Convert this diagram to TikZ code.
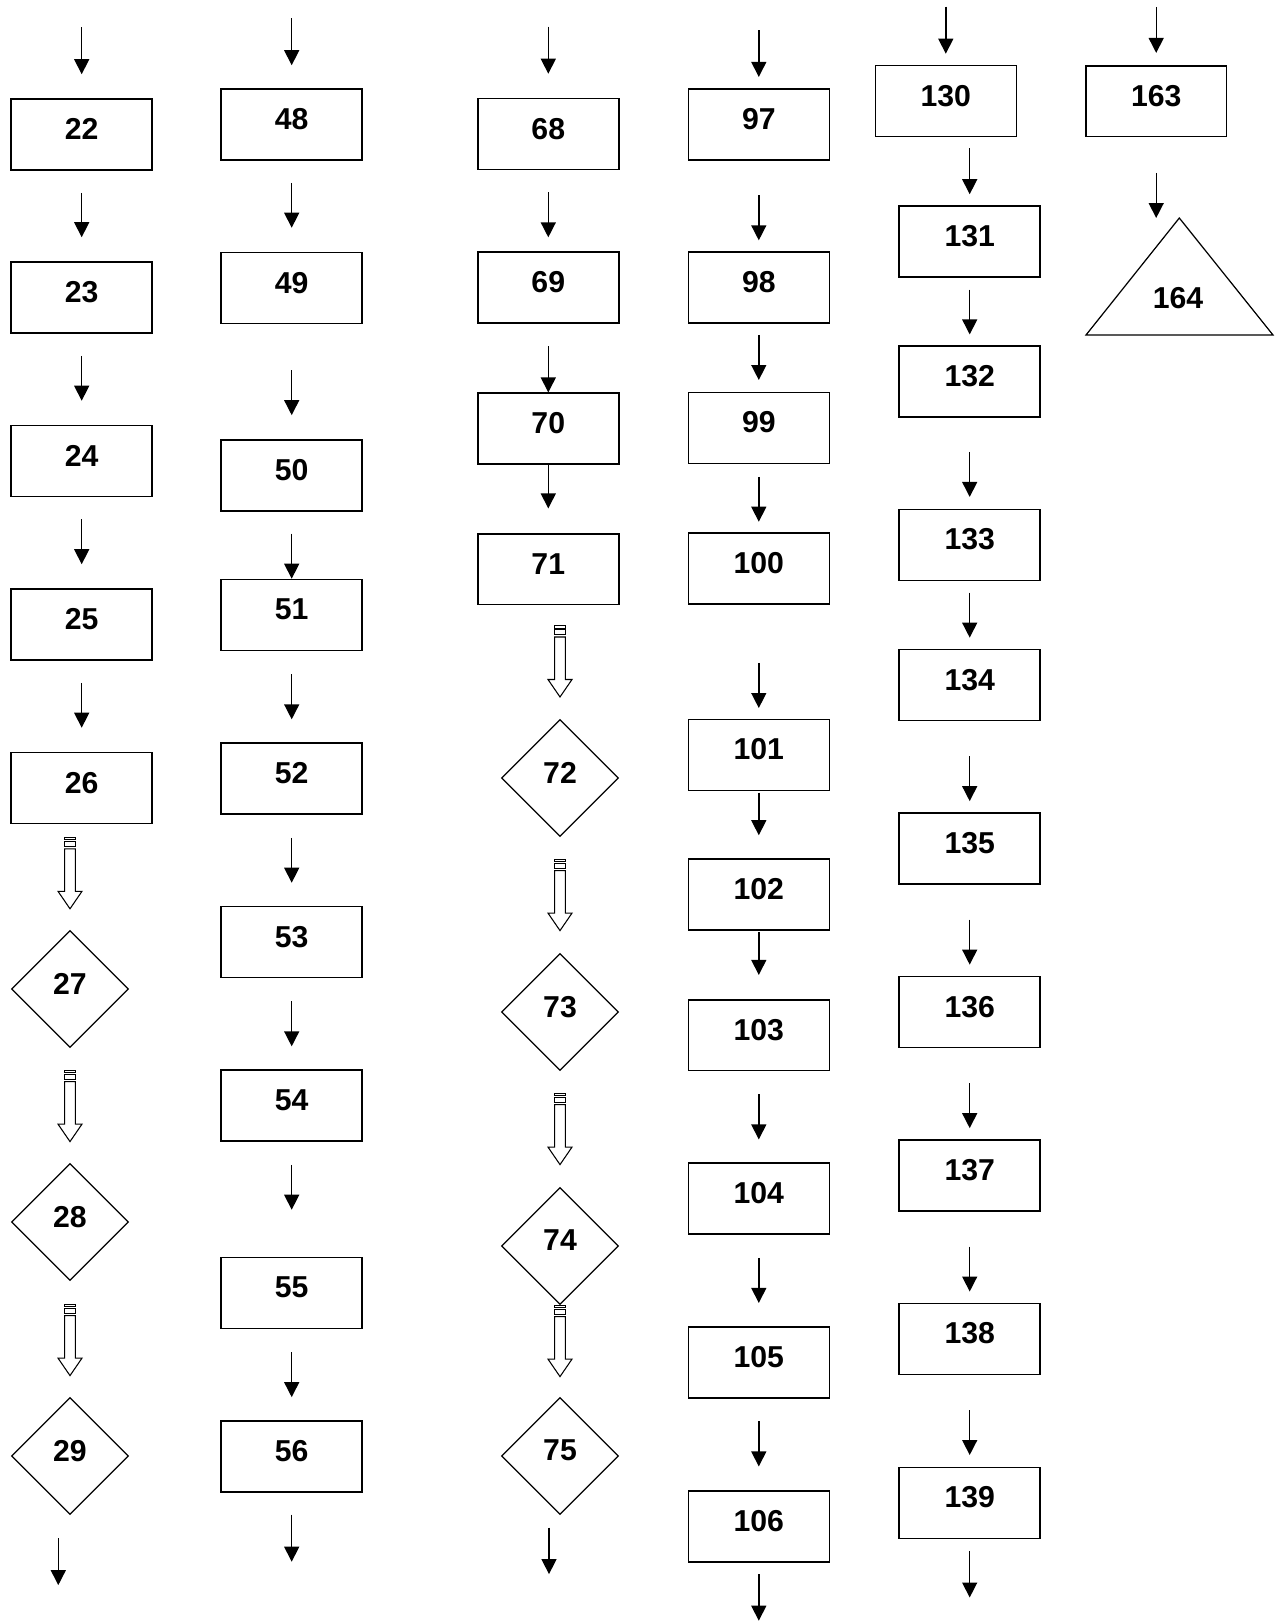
\documentclass[tikz,border=0pt]{standalone}
\usepackage{fontspec}
\setmainfont{Liberation Sans}
\usetikzlibrary{arrows.meta,shapes.geometric}

\tikzset{
  blk/.style={draw, line width=0.9pt, minimum width=2.82cm, minimum height=1.42cm, inner sep=0pt, text depth=0.22cm},
  decide/.style={diamond, draw, line width=0.7pt, minimum width=2.34cm, minimum height=2.34cm, inner sep=0pt, text depth=0.22cm},
  arr/.style={-{Triangle[length=0.3cm,width=0.3cm]}, line width=0.8pt},
  link/.style={arr, shorten <=0.44cm, shorten >=0.48cm},
  hollowarr/.pic={
    \draw[line width=0.6pt] (-5.3,0) rectangle (5.3,2.6);
    \draw[line width=0.6pt] (-5.3,4.4) rectangle (5.3,9.4);
    \draw[line width=0.6pt] (-5.3,11.5) -- (-5.3,54) -- (-12,54) -- (0,71.5) -- (12,54) -- (5.3,54) -- (5.3,11.5) -- cycle;
  }
}

\begin{document}
\begin{tikzpicture}[x=0.02cm, y=-0.02cm, every node/.style={font=\fontsize{17.2}{20}\selectfont\bfseries}]
  \useasboundingbox (0,0) rectangle (1282,1623);

  % first column
  \node[blk] (n22) at (81.7,134.5) {22};
  \node[blk] (n23) at (81.7,297.5) {23};
  \node[blk] (n24) at (81.7,461) {24};
  \node[blk] (n25) at (81.7,624.5) {25};
  \node[blk] (n26) at (81.7,788) {26};
  \node[decide] (n27) at (70,989) {27};
  \node[decide] (n28) at (70,1222) {28};
  \node[decide] (n29) at (70,1456) {29};
  \draw[arr] (n22.north) ++(0,-71) -- ++(0,47);
  \draw[link] (n22) -- (n23);
  \draw[link] (n23) -- (n24);
  \draw[link] (n24) -- (n25);
  \draw[link] (n25) -- (n26);
  \path (n26.south -| n27) ++(0,13) pic {hollowarr};
  \path (n27.south) ++(0,22) pic {hollowarr};
  \path (n28.south) ++(0,23) pic {hollowarr};
  \draw[arr] (n29.south) ++(-11.7,23) -- ++(0,47);

  % second column
  \node[blk] (n48) at (291.7,124.5) {48};
  \node[blk] (n49) at (291.7,288) {49};
  \node[blk] (n50) at (291.7,475.4) {50};
  \node[blk] (n51) at (291.7,615) {51};
  \node[blk] (n52) at (291.7,778.6) {52};
  \node[blk] (n53) at (291.7,942) {53};
  \node[blk] (n54) at (291.7,1105.6) {54};
  \node[blk] (n55) at (291.7,1293) {55};
  \node[blk] (n56) at (291.7,1456.4) {56};
  \draw[arr] (n48.north) ++(0,-70) -- ++(0,47);
  \draw[link] (n48) -- (n49);
  \draw[link, shorten <=0.92cm] (n49) -- (n50);
  \draw[link, shorten >=0cm] (n50) -- (n51);
  \draw[link, shorten <=0.46cm, shorten >=0.46cm] (n51) -- (n52);
  \draw[link, shorten <=0.46cm, shorten >=0.46cm] (n52) -- (n53);
  \draw[link, shorten <=0.46cm, shorten >=0.46cm] (n53) -- (n54);
  \draw[link, shorten <=0.46cm, shorten >=0.94cm] (n54) -- (n55);
  \draw[link, shorten <=0.46cm, shorten >=0.46cm] (n55) -- (n56);
  \draw[arr] (n56.south) ++(0,22) -- ++(0,47);

  % third column
  \node[blk] (n68) at (548.3,134) {68};
  \node[blk] (n69) at (548.3,287.6) {69};
  \node[blk] (n70) at (548.3,428.7) {70};
  \node[blk] (n71) at (548.3,569.2) {71};
  \node[decide] (n72) at (560,778) {72};
  \node[decide] (n73) at (560,1012) {73};
  \node[decide] (n74) at (560,1246) {74};
  \node[decide] (n75) at (560,1456) {75};
  \draw[arr] (n68.north) ++(0,-71) -- ++(0,47);
  \draw[link, shorten >=0.28cm] (n68) -- (n69);
  \draw[link, shorten <=0.45cm, shorten >=0cm] (n69) -- (n70);
  \draw[link, shorten <=0cm, shorten >=0.49cm] (n70) -- (n71);
  \path (n71.south -| n72) ++(0,20) pic {hollowarr};
  \path (n72.south) ++(0,22) pic {hollowarr};
  \path (n73.south) ++(0,22) pic {hollowarr};
  \path (n74.south) pic {hollowarr};
  \draw[arr] (n75.south) ++(-11,12.5) -- ++(0,46.5);

  % fourth column
  \node[blk] (n97) at (758.8,124.7) {97};
  \node[blk] (n98) at (758.8,287.6) {98};
  \node[blk] (n99) at (758.8,427.8) {99};
  \node[blk] (n100) at (758.8,568.6) {100};
  \node[blk] (n101) at (758.8,754.8) {101};
  \node[blk] (n102) at (758.8,894.5) {102};
  \node[blk] (n103) at (758.8,1035.2) {103};
  \node[blk] (n104) at (758.8,1198.7) {104};
  \node[blk] (n105) at (758.8,1362.2) {105};
  \node[blk] (n106) at (758.8,1526.4) {106};
  \draw[arr] (n97.north) ++(0,-58) -- ++(0,46.5);
  \draw[link, shorten <=0.686cm, shorten >=0.22cm] (n97) -- (n98);
  \draw[link, shorten <=0.22cm, shorten >=0.23cm] (n98) -- (n99);
  \draw[link, shorten <=0.254cm, shorten >=0.212cm] (n99) -- (n100);
  \draw[link, shorten <=1.16cm, shorten >=0.21cm] (n100) -- (n101);
  \draw[link, shorten <=0.03cm, shorten >=0.46cm] (n101) -- (n102);
  \draw[link, shorten <=0.03cm, shorten >=0.48cm] (n102) -- (n103);
  \draw[link, shorten <=0.46cm, shorten >=0.46cm] (n103) -- (n104);
  \draw[link, shorten <=0.46cm, shorten >=0.46cm] (n104) -- (n105);
  \draw[link, shorten <=0.46cm, shorten >=0.474cm] (n105) -- (n106);
  \draw[arr] (n106.south) ++(0,11.5) -- ++(0,46.5);

  % fifth column
  \node[blk] (n130) at (945.8,101) {130};
  \node[blk] (n131) at (969.7,241.3) {131};
  \node[blk] (n132) at (969.7,381.3) {132};
  \node[blk] (n133) at (969.7,544.8) {133};
  \node[blk] (n134) at (969.7,685) {134};
  \node[blk] (n135) at (969.7,848.5) {135};
  \node[blk] (n136) at (969.7,1012) {136};
  \node[blk] (n137) at (969.7,1175.4) {137};
  \node[blk] (n138) at (969.7,1338.9) {138};
  \node[blk] (n139) at (969.7,1502.8) {139};
  \draw[arr] (n130.north) ++(0,-58) -- ++(0,47);
  \draw[link, shorten <=0.224cm, shorten >=0.216cm] (n130.south -| n131) -- (n131.north);
  \draw[link, shorten <=0.24cm, shorten >=0.212cm] (n131) -- (n132);
  \draw[link, shorten <=0.686cm, shorten >=0.232cm] (n132) -- (n133);
  \draw[link, shorten <=0.23cm, shorten >=0.222cm] (n133) -- (n134);
  \draw[link, shorten <=0.696cm, shorten >=0.222cm] (n134) -- (n135);
  \draw[link, shorten <=0.696cm, shorten >=0.222cm] (n135) -- (n136);
  \draw[link, shorten <=0.696cm, shorten >=0.22cm] (n136) -- (n137);
  \draw[link, shorten <=0.698cm, shorten >=0.222cm] (n137) -- (n138);
  \draw[link, shorten <=0.698cm, shorten >=0.23cm] (n138) -- (n139);
  \draw[arr] (n139.south) ++(0,11.7) -- ++(0,46.7);

  % sixth column
  \node[blk] (n163) at (1156.2,101.2) {163};
  \coordinate (apex164) at (1179.3,218);
  \draw[line width=0.7pt] (apex164) -- (1273,335) -- (1086,335) -- cycle;
  \node (n164) at (1178,298) {164};
  \draw[arr] (n163.north) ++(0,-58) -- ++(0,46);
  \draw[arr, shorten <=0.706cm] (n163.south) -- (n163.south |- apex164);
\end{tikzpicture}
\end{document}
